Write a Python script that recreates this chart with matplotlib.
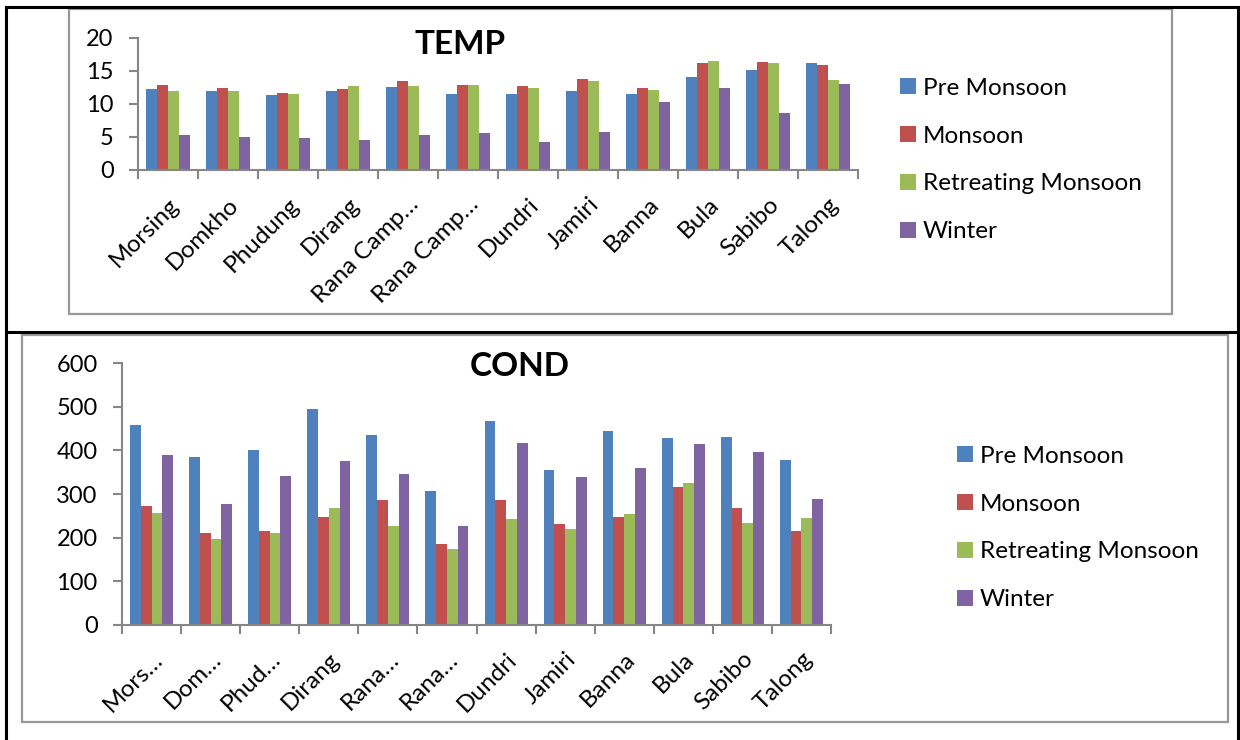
import matplotlib.pyplot as plt
import numpy as np
from matplotlib.lines import Line2D
from matplotlib.patches import Rectangle

plt.rcParams['font.family'] = ['Lato', 'DejaVu Sans']

# dati
seasons = ["Pre Monsoon", "Monsoon", "Retreating Monsoon", "Winter"]
colors = ["#4F81BD", "#C0504D", "#9BBB59", "#8064A2"]

temp_labels = ["Morsing", "Domkho", "Phudung", "Dirang", "Rana Camp\u2026", "Rana Camp\u2026",
               "Dundri", "Jamiri", "Banna", "Bula", "Sabibo", "Talong"]
cond_labels = ["Mors\u2026", "Dom\u2026", "Phud\u2026", "Dirang", "Rana\u2026", "Rana\u2026",
               "Dundri", "Jamiri", "Banna", "Bula", "Sabibo", "Talong"]

temp_pre = [12.3, 11.9, 11.3, 11.9, 12.6, 11.5, 11.5, 11.9, 11.5, 14.0, 15.1, 16.2]
temp_mon = [12.8, 12.4, 11.6, 12.2, 13.4, 12.9, 12.7, 13.8, 12.4, 16.2, 16.3, 15.8]
temp_ret = [12.0, 11.9, 11.4, 12.7, 12.7, 12.8, 12.4, 13.5, 12.1, 16.4, 16.2, 13.6]
temp_win = [5.3, 5.0, 4.8, 4.5, 5.3, 5.6, 4.2, 5.8, 10.3, 12.4, 8.6, 13.0]

cond_pre = [458, 386, 402, 496, 435, 308, 468, 356, 445, 428, 431, 377]
cond_mon = [273, 210, 214, 247, 286, 185, 286, 231, 247, 315, 267, 214]
cond_ret = [257, 196, 210, 267, 226, 174, 243, 220, 254, 325, 233, 245]
cond_win = [389, 276, 341, 376, 347, 226, 417, 339, 359, 414, 396, 289]

W, H = 1240, 740
AXIS_GRAY = "#868686"


def fx(x):
    return x / W


def fy(y):
    return 1 - y / H


def myDrawChart(fig, rect, series, labels, ymax, ystep, titolo, title_pos, legend_pos):
    ax = fig.add_axes(rect)
    x = np.arange(len(labels))
    w = 1 / 5.5  # gap width 150% come in Excel
    for i, (vals, col, nome) in enumerate(zip(series, colors, seasons)):
        ax.bar(x + (i - 1.5) * w, vals, w, color=col, label=nome, linewidth=0)
    ax.set_xlim(-0.5, len(labels) - 0.5)
    ax.set_ylim(0, ymax)
    ax.set_yticks(np.arange(0, ymax + 1, ystep))
    ax.set_xticks(x)
    ax.set_xticklabels(labels, rotation=45, ha="right", va="top", rotation_mode="anchor", fontsize=17.5)
    ax.set_xticks(np.arange(-0.5, len(labels)), minor=True)
    ax.tick_params(axis="x", which="major", length=0, pad=17)
    ax.tick_params(axis="x", which="minor", length=6.5, width=1.5, color=AXIS_GRAY, direction="out")
    ax.tick_params(axis="y", length=6.5, width=1.5, color=AXIS_GRAY, labelsize=17, pad=11)
    for s in ["top", "right"]:
        ax.spines[s].set_visible(False)
    for s in ["left", "bottom"]:
        ax.spines[s].set_color(AXIS_GRAY)
        ax.spines[s].set_linewidth(1.5)
    fig.text(fx(title_pos[0]), fy(title_pos[1]), titolo, fontsize=24, fontweight="bold",
             ha="center", va="center")
    ax.legend(loc="center left", bbox_to_anchor=(fx(legend_pos[0]), fy(legend_pos[1])),
              bbox_transform=fig.transFigure, frameon=False, fontsize=17.5,
              handlelength=0.64, handleheight=0.64, handletextpad=0.3,
              labelspacing=1.1, borderpad=0, borderaxespad=0)
    return ax


fig = plt.figure(figsize=(12.4, 7.4), dpi=100)

# bordi della tabella (neri) e dei riquadri dei grafici (grigi)
for (x0, y0, x1, y1) in [(6, 7, 1238, 7), (6, 7, 6, 740), (1238, 7, 1238, 740), (6, 332, 1238, 332)]:
    fig.add_artist(Line2D([fx(x0), fx(x1)], [fy(y0), fy(y1)], color="black", linewidth=2.2))
for (x0, y0, x1, y1) in [(69, 9, 1172, 314), (22, 335, 1228, 722)]:
    fig.add_artist(Rectangle((fx(x0), fy(y1)), fx(x1 - x0), (y1 - y0) / H,
                             fill=False, edgecolor="#989898", linewidth=1.6))

myDrawChart(fig, [fx(138), fy(170), fx(720), 132.5 / H],
            [temp_pre, temp_mon, temp_ret, temp_win], temp_labels, 20, 5,
            "TEMP", (460, 45), (900, 160))
myDrawChart(fig, [fx(122), fy(624.7), fx(709), 261.4 / H],
            [cond_pre, cond_mon, cond_ret, cond_win], cond_labels, 600, 100,
            "COND", (520, 367), (957, 528))

fig.savefig("out.png", dpi=100)
